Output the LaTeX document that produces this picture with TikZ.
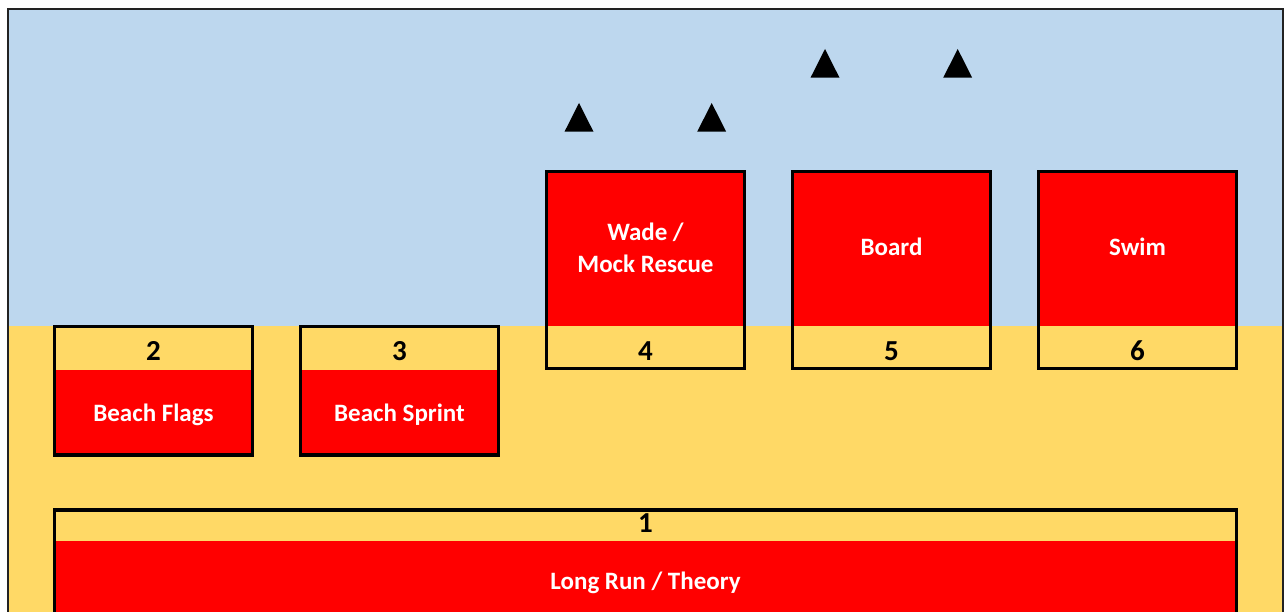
\documentclass[tikz,border=0pt]{standalone}
\usepackage{fontspec}
\setmainfont{Carlito}
\definecolor{sky}{HTML}{BDD7EE}
\definecolor{sand}{HTML}{FFD966}
\definecolor{flagred}{HTML}{FF0000}
\definecolor{framegray}{HTML}{222222}
\tikzset{
  stationbox/.style={draw=black, line width=3.4pt, minimum width=198pt, inner sep=0pt},
  numlabel/.style={anchor=base, font=\bfseries\fontsize{29}{32}\selectfont, text=black, inner sep=0pt},
  namelabel/.style={anchor=base, font=\bfseries\fontsize{25}{32}\selectfont, text=white, inner sep=0pt},
  buoy/.style={fill=black},
}
\begin{document}
\begin{tikzpicture}[x=1pt,y=-1pt]
\useasboundingbox (0,0) rectangle (1285,612);
\begin{scope}
\clip (0,0) rectangle (1285,612);
% background
\fill[sky] (8,9.5) rectangle (1283,326);
\fill[sand] (8,326) rectangle (1283,640);
\draw[framegray, line width=2pt] (8,640) -- (8,9.5) -- (1283,9.5) -- (1283,640);

% buoys
\fill[buoy] (579,103) -- (593.5,131.7) -- (564.5,131.7) -- cycle;
\fill[buoy] (711.7,103) -- (726.2,131.7) -- (697.2,131.7) -- cycle;
\fill[buoy] (825,49) -- (839.5,77.7) -- (810.5,77.7) -- cycle;
\fill[buoy] (957.7,49) -- (972.2,77.7) -- (943.2,77.7) -- cycle;

% station 2
\fill[sand] (54.5,326.7) rectangle (252.5,370);
\fill[flagred] (54.5,370) rectangle (252.5,455);
\node[stationbox, minimum height=128.3pt] (s2) at (153.5,390.85) {};
\node[numlabel] (n2) at (153.5,360) {2};
\node[namelabel] (l2) at (153.5,421) {Beach Flags};

% station 3
\fill[sand] (300.5,326.7) rectangle (498.5,370);
\fill[flagred] (300.5,370) rectangle (498.5,455);
\node[stationbox, minimum height=128.3pt] (s3) at (399.5,390.85) {};
\node[numlabel] (n3) at (399.5,360) {3};
\node[namelabel] (l3) at (399.5,421) {Beach Sprint};

% station 4
\fill[flagred] (546.5,171.7) rectangle (744.5,326);
\fill[sand] (546.5,326) rectangle (744.5,368.3);
\node[stationbox, minimum height=196.6pt] (s4) at (645.5,270) {};
\node[numlabel] (n4) at (645.5,360) {4};
\node[namelabel] (l4a) at (645.5,241) {Wade /};
\node[namelabel] (l4b) at (645.5,273) {Mock Rescue};

% station 5
\fill[flagred] (792.5,171.7) rectangle (990.5,326);
\fill[sand] (792.5,326) rectangle (990.5,368.3);
\node[stationbox, minimum height=196.6pt] (s5) at (891.5,270) {};
\node[numlabel] (n5) at (891.5,360) {5};
\node[namelabel] (l5) at (891.5,256) {Board};

% station 6
\fill[flagred] (1038.5,171.7) rectangle (1236.5,326);
\fill[sand] (1038.5,326) rectangle (1236.5,368.3);
\node[stationbox, minimum height=196.6pt] (s6) at (1137.5,270) {};
\node[numlabel] (n6) at (1137.5,360) {6};
\node[namelabel] (l6) at (1137.5,256) {Swim};

% station 1
\fill[flagred] (54.5,541) rectangle (1236.5,640);
\node[draw=black, line width=3.4pt, inner sep=0pt, minimum width=1182pt, minimum height=130pt] (s1) at (645.5,575) {};
\node[numlabel] (n1) at (645.5,532) {1};
\node[namelabel] (l1) at (645.5,589) {Long Run / Theory};
\end{scope}
\end{tikzpicture}
\end{document}
